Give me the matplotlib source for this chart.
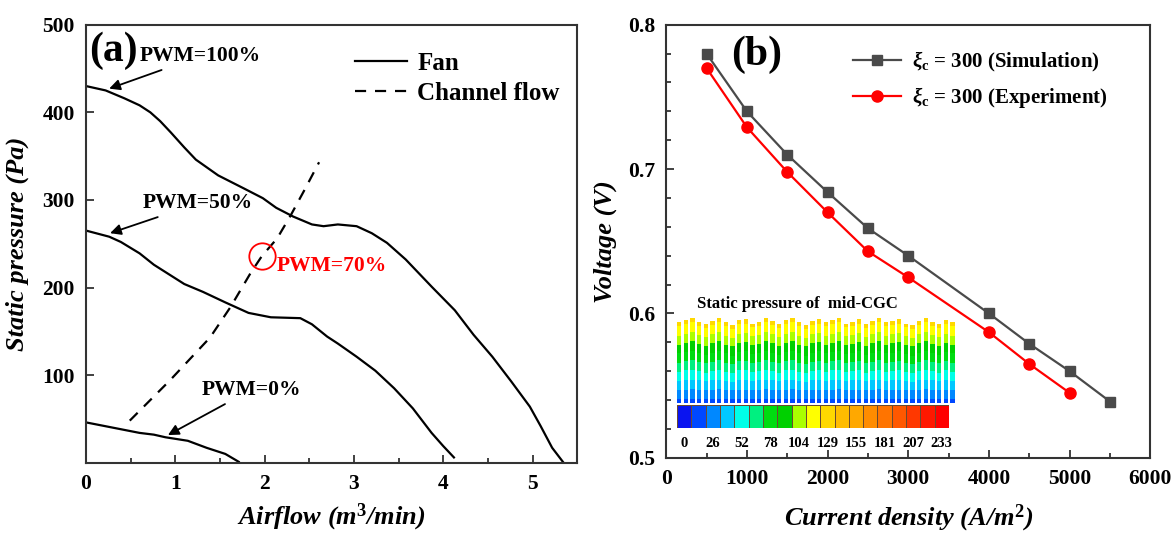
import numpy as np
import matplotlib
matplotlib.use("Agg")
import matplotlib.pyplot as plt
from matplotlib.colors import ListedColormap, BoundaryNorm
from matplotlib.ticker import MultipleLocator, FixedLocator

plt.rcParams["font.family"] = ["Liberation Serif", "DejaVu Serif"]
plt.rcParams["font.weight"] = "bold"
plt.rcParams["axes.labelweight"] = "bold"
plt.rcParams["mathtext.fontset"] = "custom"
plt.rcParams["mathtext.rm"] = "Liberation Serif:bold"
plt.rcParams["mathtext.it"] = "Liberation Serif:italic:bold"
plt.rcParams["mathtext.bf"] = "Liberation Serif:bold"

# ---- fan curves (airflow m3/min, static pressure Pa) ----
fan100_q = [0, 0.22, 0.43, 0.60, 0.72, 0.83, 0.95, 1.10, 1.23, 1.48, 1.77, 1.98, 2.13,
            2.32, 2.53, 2.66, 2.82, 3.03, 3.20, 3.37, 3.58, 3.87, 4.13, 4.34, 4.55,
            4.76, 4.97, 5.09, 5.22, 5.34]
fan100_p = [430, 425, 416, 408, 400, 390, 377, 360, 346, 328, 313, 302, 291,
            281, 272, 270, 272, 270, 262, 251, 232, 201, 174, 146, 121,
            93, 64, 42, 17, 1]

fan50_q = [0, 0.26, 0.39, 0.60, 0.76, 0.93, 1.10, 1.31, 1.56, 1.82, 2.07, 2.40, 2.53,
           2.70, 2.82, 3.03, 3.24, 3.45, 3.66, 3.87, 4.00, 4.12]
fan50_p = [265, 258, 252, 239, 226, 215, 204, 195, 183, 171, 166, 165, 158,
           144, 136, 121, 105, 85, 62, 34, 19, 6]

fan0_q = [0, 0.30, 0.60, 0.76, 0.89, 1.14, 1.35, 1.56, 1.71]
fan0_p = [46, 40, 34, 32, 29, 25, 17, 10, 1]

channel_q = [0.49, 0.94, 1.39, 1.62, 1.84, 1.97, 2.14, 2.29, 2.45, 2.61]
channel_p = [48, 94, 143, 178, 216, 236, 256, 282, 312, 343]

# ---- polarization curves (A/m2, V) ----
sim_j = [500, 1000, 1500, 2000, 2500, 3000, 4000, 4500, 5000, 5500]
sim_v = [0.780, 0.740, 0.710, 0.684, 0.659, 0.640, 0.600, 0.579, 0.560, 0.539]
exp_j = [500, 1000, 1500, 2000, 2500, 3000, 4000, 4500, 5000]
exp_v = [0.770, 0.729, 0.698, 0.670, 0.643, 0.625, 0.587, 0.565, 0.545]

# ---- pressure contour legend ----
pressure_labels = ["0", "26", "52", "78", "104", "129", "155", "181", "207", "233"]
pressure_colors = ["#0a14f0", "#0048ff", "#0088ff", "#00c8ff", "#00ffe8", "#00f080",
                   "#00dc10", "#00d000", "#aaff00", "#ffff00", "#ffd800", "#ffbc00",
                   "#ffa800", "#ff8c00", "#ff7400", "#ff5800", "#ff3800", "#ff1800",
                   "#ff0000"]
pressure_step = 12.98
# relative height of each channel tip in the mid-CGC slice
channel_tops = [0.95, 0.98, 1.00, 0.96, 0.93, 0.97, 1.00, 0.95, 0.92, 0.98,
                0.99, 0.94, 0.96, 1.00, 0.97, 0.93, 0.98, 1.00, 0.95, 0.92,
                0.97, 0.99, 0.95, 0.98, 1.00, 0.94, 0.96, 0.99, 0.93, 0.97,
                1.00, 0.95, 0.97, 0.99, 0.94, 0.92, 0.97, 1.00, 0.96, 0.93,
                0.98, 0.95]

fig = plt.figure(figsize=(11.75, 5.38), dpi=100)
ax1 = fig.add_axes([0.0732, 0.140, 0.418, 0.814])
ax2 = fig.add_axes([0.567, 0.149, 0.412, 0.805])

for ax in (ax1, ax2):
    for s in ax.spines.values():
        s.set_linewidth(1.5)
        s.set_color("#333333")
    ax.tick_params(which="both", direction="in", labelsize=15.5, width=1.3,
                   color="#333333", pad=8)
    ax.tick_params(which="major", length=6)
    ax.tick_params(which="minor", length=3.5)

# ---------------- (a) ----------------
ax1.plot(fan100_q, fan100_p, color="k", lw=1.6, label="Fan")
ax1.plot(fan50_q, fan50_p, color="k", lw=1.6)
ax1.plot(fan0_q, fan0_p, color="k", lw=1.6)
ax1.plot(channel_q, channel_p, color="k", lw=1.6, ls=(0, (5, 4)), label="Channel flow")
ax1.set_xlim(0, 5.5)
ax1.set_ylim(0, 500)
ax1.xaxis.set_major_locator(MultipleLocator(1))
ax1.xaxis.set_minor_locator(MultipleLocator(0.5))
ax1.yaxis.set_major_locator(FixedLocator([100, 200, 300, 400, 500]))
ax1.set_xlabel("Airflow (m$^3$/min)", fontsize=19, fontstyle="italic", labelpad=6)
ax1.set_ylabel("Static pressure (Pa)", fontsize=19, fontstyle="italic", labelpad=10)
ax1.legend(loc="upper right", frameon=False, fontsize=18, handlelength=2.1,
           handletextpad=0.4, bbox_to_anchor=(1.01, 0.99), labelspacing=0.3)
ax1.text(0.006, 0.985, "(a)", transform=ax1.transAxes, fontsize=30, va="top")

arrow = dict(arrowstyle="-|>", color="k", lw=1.3, mutation_scale=16)
ax1.annotate("PWM=100%", xy=(0.23, 426), xytext=(0.60, 464), fontsize=15.5,
             va="center", arrowprops=arrow)
ax1.annotate("PWM=50%", xy=(0.24, 261), xytext=(0.64, 296), fontsize=15.5,
             va="center", arrowprops=arrow)
ax1.annotate("PWM=0%", xy=(0.89, 30), xytext=(1.29, 83), fontsize=15.5,
             va="center", arrowprops=arrow)
ax1.plot([1.97], [236], marker="o", ms=19, mfc="none", mec="red", mew=1.3)
ax1.text(2.13, 225, "PWM=70%", color="red", fontsize=15.5, va="center")

# ---------------- (b) ----------------
ax2.plot(sim_j, sim_v, color="#4a4a4a", lw=1.6, marker="s", ms=7,
         label=r"$\xi_\mathrm{c}$ = 300 (Simulation)")
ax2.plot(exp_j, exp_v, color="#ff0000", lw=1.6, marker="o", ms=8,
         label=r"$\xi_\mathrm{c}$ = 300 (Experiment)")
ax2.set_xlim(0, 6000)
ax2.set_ylim(0.5, 0.8)
ax2.xaxis.set_major_locator(MultipleLocator(1000))
ax2.xaxis.set_minor_locator(MultipleLocator(500))
ax2.yaxis.set_major_locator(MultipleLocator(0.1))
ax2.yaxis.set_minor_locator(MultipleLocator(0.02))
ax2.yaxis.set_major_formatter(plt.FormatStrFormatter("%.1f"))
ax2.set_xlabel("Current density (A/m$^2$)", fontsize=19, fontstyle="italic", labelpad=10)
ax2.set_ylabel("Voltage (V)", fontsize=19, fontstyle="italic", labelpad=8)
ax2.legend(loc="upper right", frameon=False, fontsize=15, handlelength=2.3,
           handletextpad=0.5, bbox_to_anchor=(0.95, 0.985), labelspacing=0.55)
ax2.text(0.135, 0.975, "(b)", transform=ax2.transAxes, fontsize=30, va="top")

# inset: pressure contour of the mid-CGC slice
cmap = ListedColormap(pressure_colors)
bounds = (np.arange(len(pressure_colors) + 1) - 0.5) * pressure_step
norm = BoundaryNorm(bounds, cmap.N)

ny, cw, gap = 120, 4, 2
nx = len(channel_tops) * (cw + gap)
field = np.full((ny, nx), np.nan)
h = np.arange(ny)[::-1] / (ny - 1)
for i, top in enumerate(channel_tops):
    col = np.where(h <= top, 14 + 115 * h / top, np.nan)
    field[:, i * (cw + gap): i * (cw + gap) + cw] = col[:, None]

img_ax = ax2.inset_axes([0.0226, 0.1275, 0.578, 0.196])
img_ax.imshow(np.ma.masked_invalid(field), cmap=cmap, norm=norm, aspect="auto",
              interpolation="nearest")
img_ax.axis("off")

cax = ax2.inset_axes([0.0226, 0.068, 0.5614, 0.053])
levels = np.arange(len(pressure_colors)) * pressure_step
cax.pcolormesh(np.arange(len(levels) + 1), [0, 1], levels[None, :], cmap=cmap,
               norm=norm, edgecolors="#6a4a30", linewidth=0.4)
cax.set_xlim(0, len(levels))
cax.set_yticks([])
cax.set_xticks(np.arange(0, len(levels), 2) + 0.5)
cax.set_xticklabels(pressure_labels, fontsize=10.5)
cax.tick_params(length=0, pad=6)
for s in cax.spines.values():
    s.set_visible(False)
ax2.text(0.27, 0.355, "Static pressure of  mid-CGC", transform=ax2.transAxes,
         fontsize=12, ha="center", va="center")

fig.savefig("out.png", dpi=100)
